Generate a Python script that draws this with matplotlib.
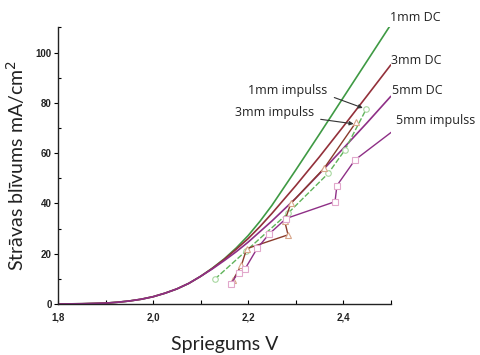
import numpy as np
import matplotlib.pyplot as plt
from matplotlib.ticker import MultipleLocator

# DC curves
dc_v = [1.80, 1.85, 1.90, 1.925, 1.95, 1.975, 2.00, 2.025, 2.05, 2.075, 2.10,
        2.125, 2.15, 2.175, 2.20, 2.225, 2.25, 2.30, 2.35, 2.40, 2.45, 2.50]
dc_1mm = [0.0, 0.1, 0.35, 0.7, 1.2, 1.9, 2.9, 4.3, 6.0, 8.2, 11.0,
          14.3, 18.0, 22.3, 27.2, 32.9, 39.2, 53.2, 67.5, 82.0, 96.5, 111.0]
dc_3mm = [0.0, 0.1, 0.35, 0.7, 1.2, 1.9, 2.9, 4.3, 6.0, 8.2, 11.0,
          14.2, 17.8, 21.8, 26.0, 30.8, 36.0, 47.0, 58.5, 70.5, 82.7, 95.0]
dc_5mm = [0.0, 0.1, 0.35, 0.7, 1.2, 1.9, 2.9, 4.3, 6.0, 8.2, 11.0,
          14.0, 17.3, 20.8, 24.6, 28.8, 33.0, 42.0, 51.8, 61.8, 72.0, 82.5]

# impulse measurements
imp1_v = [2.130, 2.195, 2.284, 2.369, 2.404, 2.449]
imp1_j = [9.9, 21.0, 36.1, 52.0, 61.3, 77.6]
imp3_v = [2.168, 2.186, 2.197, 2.284, 2.277, 2.290, 2.360, 2.428]
imp3_j = [9.5, 15.5, 22.0, 27.5, 33.0, 40.0, 54.0, 72.5]
imp5_v = [2.163, 2.180, 2.193, 2.219, 2.244, 2.280, 2.383, 2.387, 2.425, 2.514]
imp5_j = [8.0, 12.5, 13.8, 22.1, 27.8, 34.0, 40.7, 47.1, 57.3, 70.1]

x_ticks = [1.8, 2.0, 2.2, 2.4]
x_labels = ['1,8', '2,0', '2,2', '2,4']
y_ticks = [0, 20, 40, 60, 80, 100]

c_green = '#3f9a44'
c_brown = '#93303a'
c_purple = '#8e2f86'

fig = plt.figure(figsize=(4.81, 3.55), dpi=100)
ax = fig.add_axes([0.121, 0.1437, 0.691, 0.779])

ax.plot(dc_v, dc_1mm, color=c_green, lw=1.2)
ax.plot(dc_v, dc_3mm, color=c_brown, lw=1.2)
ax.plot(dc_v, dc_5mm, color=c_purple, lw=1.2)

ax.plot(imp1_v, imp1_j, color='#5fb35a', lw=1.0, ls=(0, (4, 1.5)),
        marker='o', ms=4, mfc='white', mec='#a8d8a0', mew=0.8)
ax.plot(imp3_v, imp3_j, color='#8a3b2c', lw=1.0,
        marker='^', ms=4.5, mfc='white', mec='#d8a68a', mew=0.8)
ax.plot(imp5_v, imp5_j, color=c_purple, lw=1.0,
        marker='s', ms=4, mfc='white', mec='#e2a8cc', mew=0.8)

ax.set_xlim(1.8, 2.5)
ax.set_ylim(0, 110)
ax.set_xticks(x_ticks)
ax.set_xticklabels(x_labels)
ax.set_yticks(y_ticks)
ax.xaxis.set_minor_locator(MultipleLocator(0.1))
ax.yaxis.set_minor_locator(MultipleLocator(10))
ax.spines['top'].set_visible(False)
ax.spines['right'].set_visible(False)
for s in ['left', 'bottom']:
    ax.spines[s].set_linewidth(1.0)
    ax.spines[s].set_color('#222222')

ax.tick_params(axis='x', which='both', direction='in', length=3, width=0.8, pad=6)
ax.tick_params(axis='y', which='major', direction='out', length=3, width=0.8, pad=1.5)
ax.tick_params(axis='y', which='minor', direction='in', length=2, width=0.8)
for lab in ax.get_xticklabels() + ax.get_yticklabels():
    lab.set_fontfamily('Liberation Sans')
    lab.set_fontweight('bold')
    lab.set_fontsize(7)
    lab.set_color('#222222')

ax.set_xlabel('Spriegums V', fontfamily='Lato', fontsize=14, labelpad=10, color='#222222')
ax.set_ylabel('Strāvas blīvums mA/cm$^2$', fontfamily='Lato', fontsize=14,
              labelpad=6, color='#222222')

lab_kw = dict(fontfamily='Open Sans', fontsize=9, color='#222222')
ax.text(2.499, 114, '1mm DC', va='center', ha='left', clip_on=False, **lab_kw)
ax.text(2.500, 97, '3mm DC', va='center', ha='left', clip_on=False, **lab_kw)
ax.text(2.502, 85, '5mm DC', va='center', ha='left', clip_on=False, **lab_kw)
ax.text(2.512, 73, '5mm impulss', va='center', ha='left', clip_on=False, **lab_kw)
ax.text(2.200, 85, '1mm impulss', va='center', ha='left', **lab_kw)
ax.text(2.172, 76.3, '3mm impulss', va='center', ha='left', **lab_kw)

arr = dict(arrowstyle='-|>', color='#333333', lw=0.8, mutation_scale=6)
ax.annotate('', xy=(2.447, 77.6), xytext=(2.376, 82.5), arrowprops=arr)
ax.annotate('', xy=(2.428, 71.5), xytext=(2.347, 73.6), arrowprops=arr)

fig.savefig('out.png', dpi=100)
